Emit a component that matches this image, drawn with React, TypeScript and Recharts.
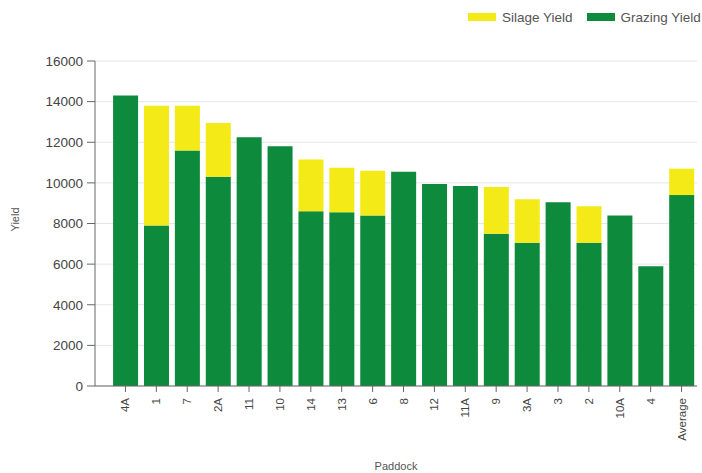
import { BarChart, Bar, XAxis, YAxis, CartesianGrid } from 'recharts';

const GRAZING_COLOR = '#0d8a3b';
const SILAGE_COLOR = '#f3ea17';
const FONT = '"Liberation Sans", Arial, sans-serif';

const paddocks = ['4A', '1', '7', '2A', '11', '10', '14', '13', '6', '8', '12', '11A', '9', '3A', '3', '2', '10A', '4', 'Average'];
const grazingYield = [14300, 7900, 11600, 10300, 12250, 11800, 8600, 8550, 8400, 10550, 9950, 9850, 7500, 7050, 9050, 7050, 8400, 5900, 9400];
const silageYield = [0, 5900, 2200, 2650, 0, 0, 2550, 2200, 2200, 0, 0, 0, 2300, 2150, 0, 1800, 0, 0, 1300];
const yTicks = [0, 2000, 4000, 6000, 8000, 10000, 12000, 14000, 16000];

const data = paddocks.map((p, i) => ({
  paddock: p,
  grazing: grazingYield[i],
  silage: silageYield[i],
}));

function PaddockTick({ x, y, payload }: any) {
  return (
    <text
      transform={`translate(${x},${y}) rotate(-90)`}
      textAnchor="end"
      dy="0.35em"
      fontSize={11.5}
      fontFamily={FONT}
      fill="#444"
    >
      {payload.value}
    </text>
  );
}

function YieldLabel({ viewBox }: any) {
  const cy = viewBox.y + viewBox.height / 2 - 4;
  return (
    <text
      transform={`translate(15,${cy}) rotate(-90)`}
      textAnchor="middle"
      dy="0.35em"
      fontSize={11}
      fontFamily={FONT}
      fill="#555"
    >
      Yield
    </text>
  );
}

function LegendBox() {
  const item = (color: string, label: string) => (
    <span style={{ display: 'inline-flex', alignItems: 'center', marginRight: 14 }}>
      <span style={{ width: 28, height: 8, background: color, display: 'inline-block', marginRight: 6 }} />
      <span>{label}</span>
    </span>
  );
  return (
    <div
      style={{
        position: 'absolute',
        left: 468,
        top: 9,
        whiteSpace: 'nowrap',
        fontFamily: FONT,
        fontSize: 13.5,
        color: '#555',
      }}
    >
      {item(SILAGE_COLOR, 'Silage Yield')}
      {item(GRAZING_COLOR, 'Grazing Yield')}
    </div>
  );
}

export default function App() {
  return (
    <div style={{ position: 'absolute', left: 0, top: 0, width: 702, height: 473, overflow: 'hidden', background: '#fff' }}>
      <LegendBox />
      <BarChart
        width={702}
        height={473}
        data={data}
        margin={{ top: 61, right: 5, bottom: 3, left: 0 }}
        barCategoryGap="10%"
      >
        <CartesianGrid vertical={false} stroke="#e6e6e6" />
        <XAxis
          dataKey="paddock"
          interval={0}
          height={84}
          padding={{ left: 15, right: 0 }}
          tick={<PaddockTick />}
          tickSize={6}
          tickMargin={6}
          stroke="#666"
          label={{ value: 'Paddock', position: 'insideBottom', offset: 0, fontSize: 11, fontFamily: FONT, fill: '#555' }}
        />
        <YAxis
          width={95}
          domain={[0, 16000]}
          ticks={yTicks}
          interval={0}
          tickSize={8}
          tickMargin={4}
          stroke="#666"
          tick={{ fontSize: 13.5, fontFamily: FONT, fill: '#444' }}
          label={<YieldLabel />}
        />
        <Bar dataKey="grazing" stackId="a" fill={GRAZING_COLOR} isAnimationActive={false} />
        <Bar dataKey="silage" stackId="a" fill={SILAGE_COLOR} isAnimationActive={false} />
      </BarChart>
    </div>
  );
}
